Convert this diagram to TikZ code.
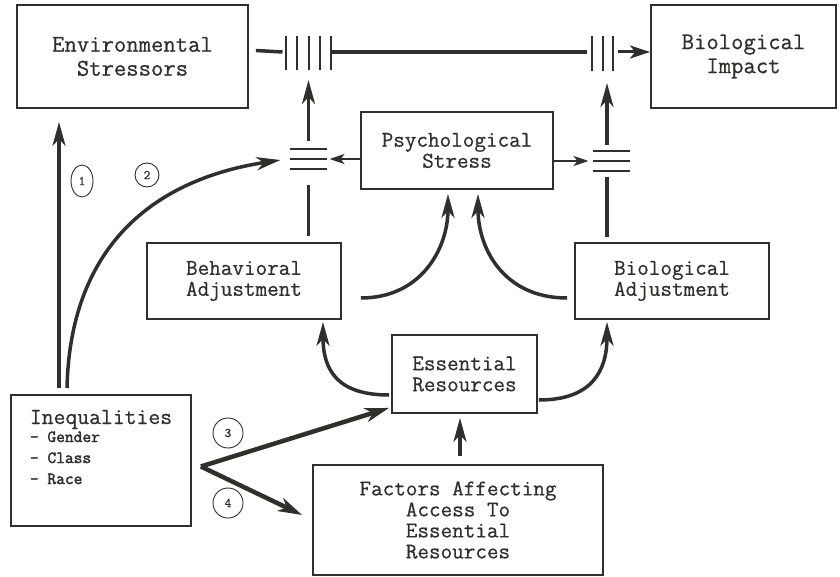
\documentclass[tikz,border=0pt]{standalone}
\usepackage{fontspec}
\setmonofont{Latin Modern Mono}[FakeBold=0.6]
\newfontfamily\boldmono{Latin Modern Mono}[FakeBold=2.2]
\usetikzlibrary{arrows.meta,calc,shapes.geometric}
\definecolor{ink}{HTML}{2F2F2B}
\newcommand\subf{\boldmono\fontsize{17}{17}\selectfont}
\begin{document}
\begin{tikzpicture}[x=1pt,y=-1pt,
  box/.style={draw=ink, line width=1.8pt, inner sep=0pt, align=center, text=ink,
    font=\ttfamily\fontsize{22.5}{21}\selectfont},
  bigbox/.style={box, font=\ttfamily\fontsize{24}{24}\selectfont},
  arr/.style={draw=ink, line width=3.5pt, -{Stealth[length=24pt,width=13pt,inset=7pt]}},
  arrf/.style={draw=ink, line width=4.5pt, -{Stealth[length=24pt,width=14pt,inset=7pt]}},
  sarr/.style={draw=ink, line width=2.5pt, -{Stealth[length=15pt,width=10pt,inset=4pt]}},
  ln/.style={draw=ink, line width=3.5pt},
  bar/.style={draw=ink, line width=2pt},
  num/.style={draw=ink, line width=0.9pt, circle, inner sep=0pt, minimum size=24pt, text=ink,
    font=\ttfamily\fontsize{13}{13}\selectfont},
]
\useasboundingbox[fill=white] (0,0) rectangle (840,577);

% boxes
\node[bigbox, minimum width=231pt, minimum height=103pt] (env) at (132.5,56.5) {Environmental\\Stressors};
\node[bigbox, minimum width=185pt, minimum height=103pt] (impact) at (743.5,56.5) {Biological\\Impact};
\node[box, minimum width=192pt, minimum height=77pt] (psych) at (457,150.5) {Psychological\\Stress};
\node[box, minimum width=194pt, minimum height=76pt] (behav) at (244,281) {Behavioral\\Adjustment};
\node[box, minimum width=194pt, minimum height=76pt] (bioadj) at (672,281) {Biological\\Adjustment};
\node[box, minimum width=145pt, minimum height=78pt] (ess) at (464.5,374) {Essential\\Resources};
\node[box, minimum width=290pt, minimum height=110pt] (fact) at (458,520) {Factors Affecting\\Access To\\Essential\\Resources};
\node[box, align=left, minimum width=180pt, minimum height=131pt] (ineq) at (101,460.5)
  {\fontsize{23}{20}\selectfont Inequalities\\[-3pt]\subf - Gender\\\subf - Class\\\subf - Race\\[6pt]};

% numbers
\node[num, ellipse, minimum width=22pt, minimum height=32pt] (c1) at (82,181) {1};
\node[num] (c2) at (147,175) {2};
\node[num, minimum size=30pt] (c3) at (228,433) {3};
\node[num, minimum size=30pt] (c4) at (228,503) {4};

% junction coordinates
\coordinate (tb1) at (308.5,52);
\coordinate (tb2) at (602.5,52);
\coordinate (hb1) at (308.5,159);
\coordinate (hb2) at (611.5,161);
\coordinate (fork) at ($(ineq.east)+(9,6)$);

% top line with bars
\draw[ln] ($(env.east)+(7,-6)$) -- ($(tb1)+(-26,0)$);
\foreach \dx in {-22.5,-11.5,0,11.5,22.5}
  \draw[bar] ($(tb1)+(\dx,-16)$) -- ($(tb1)+(\dx,18)$);
\draw[ln] ($(tb1)+(22.5,0)$) -- ($(tb2)+(-16,0)$);
\foreach \dx in {-10.5,0,10.5}
  \draw[bar] ($(tb2)+(\dx,-16)$) -- ($(tb2)+(\dx,19)$);
\draw[draw=ink, line width=3pt, -{Stealth[length=20pt,width=13pt,inset=5pt]}] ($(tb2)+(15,0)$) -- (impact.west |- tb2);

% horizontal bar junctions
\foreach \dy in {-10,0,10} {
  \draw[bar] ($(hb1)+(-18.5,\dy)$) -- ($(hb1)+(18.5,\dy)$);
  \draw[bar] ($(hb2)+(-18.5,\dy)$) -- ($(hb2)+(18.5,\dy)$);
}

% verticals
\draw[arr] ($(hb1)+(0,-18)$) -- ($(tb1)+(0,28)$);
\draw[arr] ($(hb2)+(-4.5,-16)$) -- ($(tb2)+(4.5,31)$);
\draw[ln] ($(hb1)+(0,26)$) -- ($(behav.north)+(64.5,-6)$);
\draw[ln] ($(hb2)+(-4.5,16)$) -- ($(bioadj.north)+(-65,-5)$);

% psych to junctions
\draw[sarr] (psych.west |- hb1) -- ($(hb1)+(21,0)$);
\draw[sarr] (psych.east |- hb2) -- ($(hb2)+(-23,0)$);

% inequalities arrows
\draw[arr] ($(ineq.north)+(-42,-6)$) -- ($(env.south)+(-73.5,13)$);
\draw[arr] ($(ineq.north)+(-34,-6)$) .. controls +(3,-139) and +(-130,20) .. ($(hb1)+(-28,1)$);
\draw[arrf] (fork) -- ($(ess.south west)+(-2,-6)$);
\draw[arrf] (fork) -- ($(fact.west)+(-10,-5)$);

% adjustment curves
\draw[arr] ($(behav.east)+(19,17)$) .. controls +(60,0) and +(0,55) .. ($(psych.south)+(-9,4)$);
\draw[arr] ($(bioadj.west)+(-7,17)$) .. controls +(-63,0) and +(0,55) .. ($(psych.south)+(21,4)$);
\draw[arr] ($(ess.west)+(-2,21)$) .. controls +(-50,0) and +(0,50) .. ($(behav.south)+(79,2)$);
\draw[arr] ($(ess.east)+(1,26)$) .. controls +(52,0) and +(0,50) .. ($(bioadj.south)+(-65,2)$);
\draw[arr] ($(fact.north)+(2,-8)$) -- ($(ess.south)+(-4.5,4)$);
\end{tikzpicture}
\end{document}
